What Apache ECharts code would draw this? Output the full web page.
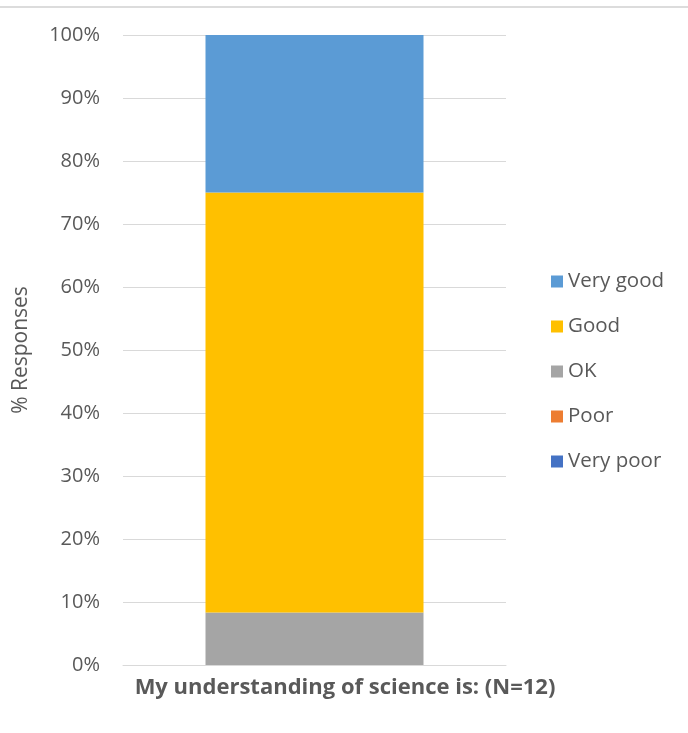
<!DOCTYPE html>
<html><head><meta charset="utf-8">
<script src="https://cdn.jsdelivr.net/npm/echarts@6/dist/echarts.min.js"></script>
<style>html,body{margin:0;padding:0;background:#fff}#c{width:688px;height:733px}</style>
</head><body><div id="c"></div>
<script>
var categories = ['My understanding of science is: (N=12)'];
var seriesNames = ['Very poor', 'Poor', 'OK', 'Good', 'Very good'];
var veryPoor = [0];
var poor = [0];
var ok = [8.33];
var good = [66.67];
var veryGood = [25];
var legendOrder = ['Very good', 'Good', 'OK', 'Poor', 'Very poor'];
var colors = {'Very poor': '#4472C4', 'Poor': '#ED7D31', 'OK': '#A5A5A5', 'Good': '#FFC000', 'Very good': '#5B9BD5'};
var values = {'Very poor': veryPoor, 'Poor': poor, 'OK': ok, 'Good': good, 'Very good': veryGood};

var font = '"Open Sans", sans-serif';
var chart = echarts.init(document.getElementById('c'));
chart.setOption({
  animation: false,
  textStyle: {fontFamily: font},
  grid: {left: 123, right: 182, top: 35, bottom: 68},
  legend: {
    data: legendOrder,
    orient: 'vertical',
    left: 546, top: 266,
    itemWidth: 12, itemHeight: 12, itemGap: 24,
    icon: 'rect',
    textStyle: {fontSize: 20.5, color: '#595959', fontFamily: font}
  },
  graphic: [{
    type: 'line', shape: {x1: 0, y1: 7, x2: 688, y2: 7},
    style: {stroke: '#dcdcdc', lineWidth: 2}
  }],
  xAxis: {
    type: 'category', data: categories,
    axisLine: {lineStyle: {color: '#d9d9d9'}},
    axisTick: {show: false},
    axisLabel: {fontSize: 22, fontWeight: 'bold', color: '#595959', margin: 12, padding: [0, 0, 0, 61], fontFamily: font}
  },
  yAxis: {
    type: 'value', min: 0, max: 100, interval: 10,
    name: '% Responses', nameLocation: 'middle', nameGap: 91,
    nameTextStyle: {fontSize: 21, color: '#595959', fontFamily: font},
    axisLabel: {formatter: '{value}%', fontSize: 20, color: '#595959', margin: 23, fontFamily: font},
    splitLine: {lineStyle: {color: '#d9d9d9'}},
    axisLine: {show: false}, axisTick: {show: false}
  },
  series: seriesNames.map(function (n) {
    return {name: n, type: 'bar', stack: 'total', data: values[n], barWidth: 218,
      itemStyle: {color: colors[n]}};
  })
});
</script></body></html>
